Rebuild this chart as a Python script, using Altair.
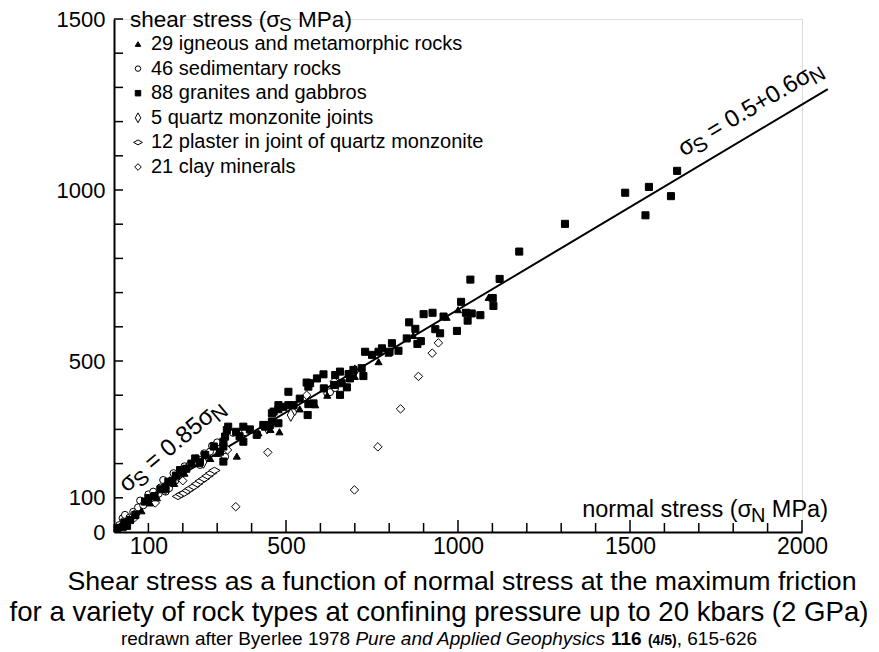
import altair as alt
import pandas as pd

FONT = "Liberation Sans"

# ---------------- data ----------------
CATEGORIES = ["29 igneous and metamorphic rocks", "46 sedimentary rocks", "88 granites and gabbros",
              "5 quartz monzonite joints", "12 plaster in joint of quartz monzonite", "21 clay minerals"]
SHAPES = ["triangle-up", "circle", "square", "M0,-1.8L1,0L0,1.8L-1,0Z", "M-1.6,0L0,-0.9L1.6,0L0,0.9Z",
          "M-1.2,0L0,-1.2L1.2,0L0,1.2Z"]
FILLS = ["black", "white", "black", "white", "white", "white"]

granite_sn = [10, 25, 38, 30, 47, 62, 90, 100, 118, 135, 150, 158, 170, 180, 192, 192, 210, 225, 236, 250,
              265, 290, 308, 318, 318, 318, 323, 332, 328, 355, 365, 376, 376, 395, 415, 434, 439, 454, 459, 459,
              464, 478, 478, 478, 492, 507, 507, 522, 540, 560, 563, 565, 565, 570, 580, 590, 609, 610, 640, 643,
              657, 657, 662, 677, 682, 686, 696, 720, 725, 730, 750, 769, 779, 801, 808, 827, 851, 858, 876, 882,
              892, 900, 926, 934, 948, 958, 997, 1009, 1023, 1028, 1040, 1065, 1036, 1101, 1103, 1121, 1178, 1311,
              1486, 1545, 1555, 1619, 1637]
granite_ss = [12, 14, 18, 28, 35, 50, 89, 99, 105, 125, 130, 147, 150, 165, 172, 181, 185, 200, 215, 205,
              225, 250, 235, 206, 250, 264, 279, 308, 298, 293, 280, 308, 264, 300, 284, 313, 308, 313, 323, 347,
              352, 318, 359, 371, 366, 371, 410, 371, 390, 437, 342, 374, 425, 435, 376, 449, 461, 420, 430, 459,
              401, 469, 435, 423, 462, 449, 474, 479, 456, 527, 518, 527, 537, 527, 552, 530, 566, 613, 594, 550,
              558, 637, 641, 593, 581, 630, 588, 673, 641, 618, 639, 634, 738, 684, 661, 740, 820, 901,
              992, 926, 1009, 982, 1056]

igneous_sn = [20, 45, 60, 80, 105, 125, 150, 175, 205, 245, 280, 300, 357, 420, 455, 481, 540, 585, 620, 700,
              769, 798, 870, 967, 1000, 1089]
igneous_ss = [18, 40, 48, 62, 85, 100, 125, 142, 172, 200, 215, 230, 222, 290, 300, 293, 360, 372, 400, 455,
              498, 523, 575, 628, 650, 686]

sediment_sn = [15, 25, 32, 45, 56, 65, 70, 76, 85, 95, 100, 110, 114, 122, 130, 135, 143, 150, 153, 160,
               165, 173, 178, 185, 195, 200, 205, 211, 220, 240, 250, 255, 262, 270, 279, 285, 294, 300, 310, 323,
               346, 381, 620, 628, 643, 520]
sediment_ss = [20, 40, 50, 42, 59, 55, 72, 92, 78, 90, 110, 95, 118, 102, 112, 130, 152, 118, 137, 128,
               145, 172, 150, 162, 168, 182, 192, 186, 196, 215, 196, 212, 230, 220, 235, 252, 254, 262, 245, 220,
               290, 292, 406, 409, 421, 350]

qmj_sn = [150, 260, 445, 514, 700]
qmj_ss = [128, 205, 305, 342, 470]

plaster_sn = [186, 195, 204, 214, 222, 232, 242, 252, 262, 272, 282, 292]
plaster_ss = [104, 110, 114, 121, 127, 133, 141, 149, 156, 164, 172, 180]

clay_sn = [354, 447, 699, 767, 833, 885, 925, 943, 60, 120, 200, 330, 560, 640]
clay_ss = [74, 233, 123, 249, 360, 455, 523, 553, 42, 85, 150, 240, 400, 440]

# Byerlee's law segments
law_sn = [0, 200, 2075]
law_ss = [0, 170, 1295]

X_LABELS = [100, 500, 1000, 1500, 2000]
Y_LABELS = [0, 100, 500, 1000, 1500]
X_MINOR = [100, 200, 300, 400, 600, 700, 800, 900, 1100, 1200, 1300, 1400, 1600, 1700, 1800, 1900]
X_MAJOR = [500, 1000, 1500, 2000]
Y_TICKS = [100, 200, 300, 400, 500, 600, 700, 800, 900, 1000, 1100, 1200, 1300, 1400, 1500]

# ---------------- helpers ----------------
W, H = 688, 513
XS = alt.Scale(domain=[0, 2000], nice=False, zero=False)
YS = alt.Scale(domain=[0, 1500], nice=False, zero=False)
XAXIS = alt.Axis(values=X_LABELS, format="d", ticks=False, grid=False, title=None, domainColor="black",
                 domainWidth=2, labelFont=FONT, labelFontSize=23, labelColor="black", labelPadding=3,
                 labelFlush=False, labelOverlap=False)
YAXIS = alt.Axis(values=Y_LABELS, format="d", ticks=False, grid=False, title=None, domainColor="black",
                 domainWidth=2, labelFont=FONT, labelFontSize=22, labelColor="black", labelPadding=9,
                 labelOverlap=False)


def X(field="sn"):
    return alt.X(f"{field}:Q", scale=XS, axis=XAXIS)


def Y(field="ss"):
    return alt.Y(f"{field}:Q", scale=YS, axis=YAXIS)


AW = {}
for chars, w in [("ijl", 222), ("ft.,/ I", 278), ("r()-", 333), ("cksvxyz", 500),
                 ("abdeghnopqu0123456789", 556), ("σ", 570), ("=+", 584), ("FTZ", 611),
                 ("ABEKPSVXY", 667), ("wCDHNRU", 722), ("GOQ", 778), ("mM", 833), ("W", 944)]:
    for ch in chars:
        AW[ch] = w


def tw(s, size):
    return sum(AW.get(ch, 556) for ch in s) * size / 1000.0


ONE = pd.DataFrame({"a": [0]})

# ---------------- points ----------------
rows = []
groups = [(1, sediment_sn, sediment_ss), (4, plaster_sn, plaster_ss), (5, clay_sn, clay_ss),
          (3, qmj_sn, qmj_ss), (2, granite_sn, granite_ss), (0, igneous_sn, igneous_ss)]
k = 0
for ci, xs_, ys_ in groups:
    for a, b in zip(xs_, ys_):
        rows.append({"sn": a, "ss": b, "type": CATEGORIES[ci], "ord": k})
        k += 1
df = pd.DataFrame(rows)

LEG = alt.Legend(orient="none", legendX=14, legendY=15, title=None, labelFont=FONT, labelFontSize=20,
                 labelColor="black", symbolSize=30, symbolStrokeColor="black", symbolStrokeWidth=1,
                 rowPadding=4.6, labelOffset=3, padding=0, labelLimit=600, symbolOpacity=1)

points = alt.Chart(df).mark_point(filled=True, strokeWidth=1, size=50, opacity=1).encode(
    x=X(), y=Y(),
    shape=alt.Shape("type:N", scale=alt.Scale(domain=CATEGORIES, range=SHAPES), legend=LEG),
    fill=alt.Fill("type:N", scale=alt.Scale(domain=CATEGORIES, range=FILLS), legend=LEG),
    stroke=alt.Stroke("type:N", scale=alt.Scale(domain=CATEGORIES, range=["black"] * 6), legend=LEG),
    order=alt.Order("ord:Q"),
)

law = alt.Chart(pd.DataFrame({"sn": law_sn, "ss": law_ss})).mark_line(
    color="black", strokeWidth=2, clip=False).encode(x=X(), y=Y())

xminor = alt.Chart(pd.DataFrame({"sn": X_MINOR})).mark_rule(color="black", strokeWidth=1.5).encode(
    x=X(), y=alt.value(H), y2=alt.value(H - 9))
xmajor = alt.Chart(pd.DataFrame({"sn": X_MAJOR})).mark_rule(color="black", strokeWidth=1.5).encode(
    x=X(), y=alt.value(H), y2=alt.value(H - 12))
yticks = alt.Chart(pd.DataFrame({"ss": Y_TICKS})).mark_rule(color="black", strokeWidth=1.5).encode(
    y=Y(), x=alt.value(0), x2=alt.value(9))

layers = [xminor, xmajor, yticks, law, points]

SUB = 0.85
SUB_DY = 0.22


def split_lead(txt):
    s = txt.lstrip(" ")
    return txt[:len(txt) - len(s)], s


# ---------------- rotated equation labels ----------------
def rotated(pieces, sn, ss, angle, size):
    out = []
    off = 0.0
    d = pd.DataFrame({"sn": [sn], "ss": [ss]})
    for txt, sub in pieces:
        fs = size * (SUB if sub else 1)
        lead, body = split_lead(txt)
        off += tw(lead, fs)
        out.append(alt.Chart(d).mark_text(text=body, font=FONT, fontSize=fs, align="left",
                                          baseline="alphabetic", angle=angle, dx=off,
                                          dy=(SUB_DY * size if sub else 0), color="black").encode(x=X(), y=Y()))
        off += tw(body, fs)
    return out


layers += rotated([("σ", False), ("S", True), (" = 0.85σ", False), ("N", True)], 37, 114, 320, 24)
layers += rotated([("σ", False), ("S", True), (" = 0.5+0.6σ", False), ("N", True)], 1656, 1097, 329.2, 24)


# ---------------- flat texts with subscripts ----------------
def flat(pieces, x0, y0, size, align_right=False):
    total = sum(tw(t, size * (SUB if s else 1)) for t, s in pieces)
    off = x0 - total if align_right else x0
    out = []
    for txt, sub in pieces:
        fs = size * (SUB if sub else 1)
        lead, body = split_lead(txt)
        off += tw(lead, fs)
        out.append(alt.Chart(ONE).mark_text(text=body, font=FONT, fontSize=fs, align="left",
                                            baseline="alphabetic", color="black").encode(
            x=alt.value(off), y=alt.value(y0 + (SUB_DY * size if sub else 0))))
        off += tw(body, fs)
    return out


layers += flat([("shear stress (σ", False), ("S", True), (" MPa)", False)], 16, 7.5, 22.5)
layers += flat([("normal stress (σ", False), ("N", True), (" MPa)", False)], 714, 498, 23.5, align_right=True)

# ---------------- caption ----------------
for txt, cx, yb, fs in [("Shear stress as a function of normal stress at the maximum friction", 348, 571, 26.7),
                        ("for a variety of rock types at confining pressure up to 20 kbars (2 GPa)", 325, 602, 27.6)]:
    layers.append(alt.Chart(ONE).mark_text(text=txt, font=FONT, fontSize=fs, align="center",
                                           baseline="alphabetic", color="black").encode(
        x=alt.value(cx), y=alt.value(yb)))

cite = [("redrawn after Byerlee 1978 ", 19, "normal", "normal"),
        ("Pure and Applied Geophysics", 19, "italic", "normal"),
        (" ", 19, "normal", "normal"),
        ("116", 19, "normal", "bold"),
        (" ", 19, "normal", "normal"),
        ("(4/5)", 14, "normal", "bold"),
        (", 615-626", 19, "normal", "normal")]
total = sum(tw(t, s) for t, s, _, _ in cite)
off = 325 - total / 2
for txt, s, st, wt in cite:
    body = txt.strip(" ")
    if body:
        layers.append(alt.Chart(ONE).mark_text(text=body, font=FONT, fontSize=s, fontStyle=st, fontWeight=wt,
                                               align="left", baseline="alphabetic", color="black").encode(
            x=alt.value(off), y=alt.value(626)))
    off += tw(txt, s)

chart = alt.layer(*layers).properties(
    width=W, height=H,
    autosize=alt.AutoSizeParams(type="none"),
    padding={"left": 106, "top": 11, "right": 69, "bottom": 119},
).configure_view(stroke=None).configure(font=FONT)

chart.save("out.html", embed_options={"renderer": "svg", "actions": False})
